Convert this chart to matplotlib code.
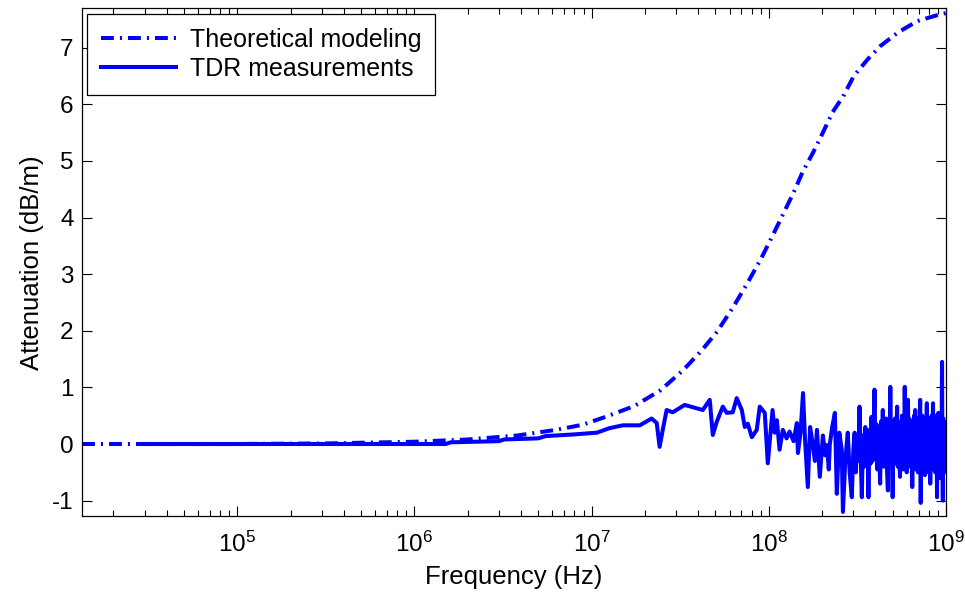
import numpy as np
import matplotlib
matplotlib.use("Agg")
import matplotlib.pyplot as plt

plt.rcParams['font.family'] = ['Liberation Sans', 'DejaVu Sans']
plt.rcParams['mathtext.fontset'] = 'custom'
plt.rcParams['mathtext.rm'] = 'Liberation Sans'
plt.rcParams['mathtext.it'] = 'Liberation Sans'
plt.rcParams['axes.unicode_minus'] = False

# theoretical attenuation (dB/m) vs frequency (Hz)
theo_freq = [1.33e4, 1e5, 3.16e5, 1e6, 2e6, 3.8e6, 6.3e6, 8.9e6, 1.2e7, 1.74e7,
             2.45e7, 3.3e7, 4.2e7, 5.1e7, 6.3e7, 7.6e7, 9.0e7, 1.07e8, 1.2e8,
             1.38e8, 1.55e8, 1.78e8, 2.02e8, 2.29e8, 2.63e8, 3.02e8, 3.63e8,
             4.27e8, 5.37e8, 6.9e8, 9.3e8, 1e9]
theo_att = [0.0, 0.0, 0.01, 0.04, 0.08, 0.15, 0.25, 0.34, 0.48, 0.67,
            0.95, 1.31, 1.66, 1.98, 2.42, 2.85, 3.26, 3.73, 4.05,
            4.44, 4.80, 5.15, 5.50, 5.86, 6.14, 6.50, 6.80,
            7.03, 7.27, 7.47, 7.59, 7.61]

# TDR measurement, lower part (read point by point)
tdr_freq = [3e4, 1.5e6, 1.6e6, 3.0e6, 3.2e6, 5.0e6, 5.5e6, 8.0e6, 1.07e7, 1.26e7,
            1.50e7, 1.87e7, 2.18e7, 2.33e7, 2.42e7, 2.52e7, 2.65e7, 2.87e7, 3.35e7,
            4.24e7, 4.64e7, 4.83e7, 5.08e7, 5.50e7, 5.79e7, 6.26e7, 6.59e7, 7.04e7,
            7.32e7, 7.61e7, 8.02e7, 8.55e7, 8.89e7, 9.49e7, 9.87e7, 1.05e8, 1.08e8,
            1.11e8, 1.15e8, 1.20e8, 1.26e8, 1.31e8, 1.38e8, 1.44e8, 1.46e8, 1.51e8,
            1.56e8, 1.60e8, 1.64e8, 1.66e8, 1.71e8, 1.77e8, 1.82e8, 1.87e8, 1.94e8,
            2.02e8, 2.08e8, 2.13e8, 2.18e8, 2.21e8, 2.28e8, 2.36e8, 2.42e8, 2.50e8,
            2.58e8, 2.62e8, 2.70e8, 2.79e8, 2.86e8, 2.94e8]
tdr_att = [0.0, 0.0, 0.03, 0.05, 0.08, 0.10, 0.14, 0.17, 0.20, 0.28,
           0.33, 0.33, 0.45, 0.37, -0.05, 0.25, 0.60, 0.56, 0.69,
           0.60, 0.78, 0.16, 0.39, 0.66, 0.55, 0.56, 0.81, 0.60,
           0.30, 0.36, 0.12, 0.25, 0.66, 0.55, -0.34, 0.60, 0.20,
           0.42, -0.10, 0.25, 0.10, 0.22, 0.05, 0.37, -0.16, 0.20,
           0.90, 0.10, -0.46, -0.76, 0.30, 0.0, -0.30, 0.25, -0.58,
           0.15, -0.20, -0.02, -0.45, 0.0, 0.30, 0.55, -0.88, 0.20,
           -0.10, -1.20, -0.30, 0.20, -0.50, -0.94]

# TDR measurement, dense band 300 MHz - 1 GHz (5 MHz steps)
band_att = [-0.1, 0.2, -0.5, 0.1, -0.3, 0.66, -0.2, -0.94, 0.15, -0.4,
            0.3, -0.25, 0.25, -0.94, 0.2, -0.35, 0.48, -0.3, 0.1, 0.96,
            -0.2, 0.35, -0.45, 0.3, -0.1, -0.7, 0.4, -0.3, 0.6, -0.4,
            0.35, -0.2, 0.45, -0.5, -0.82, 0.3, -0.3, 1.01, -0.2, 0.4,
            -0.94, 0.3, -0.35, 0.45, -0.25, 0.2, 0.66, -0.4, 0.35, -0.3,
            -0.58, 0.4, -0.2, 0.5, -0.45, 0.3, -0.3, 1.01, -0.1, 0.4,
            -0.5, 0.35, 0.78, -0.3, 0.45, -0.4, 0.3, -0.2, 0.4, -0.76,
            0.2, -0.35, 0.5, -0.3, 0.6, -0.45, 0.35, -0.25, 0.45, -0.5,
            0.3, -0.3, 0.4, 0.78, -1.04, 0.35, -0.3, 0.5, -0.4, 0.3,
            -0.25, 0.45, -0.55, 0.35, -0.3, 0.4, 0.72, -0.4, 0.3, -0.5,
            0.45, -0.3, 0.35, -0.7, 0.4, -0.35, 0.5, -0.3, 0.3, 0.72,
            -0.45, 0.4, -0.3, 0.5, -0.5, 0.35, -0.25, 0.4, -0.94, 0.3,
            -0.4, 0.55, -0.3, 0.4, -0.6, 0.35, -0.3, 0.5, -0.45, 0.3,
            1.45, -0.4, -1.0, 0.45, -0.3, 0.4, -0.5, 0.37, -0.3, 0.3,
            -0.2]
band_freq = np.linspace(3.0e8, 1.0e9, len(band_att))

meas_freq = np.concatenate([tdr_freq, band_freq])
meas_att = np.concatenate([tdr_att, band_att])

fig = plt.figure(figsize=(9.65, 5.96), dpi=100)
ax = fig.add_axes([0.085, 0.1334, 0.8953, 0.8532])

lw = 2.9
ax.plot(theo_freq, theo_att, color='blue', lw=lw, dashes=(3.2, 1.5, 0.5, 1.5),
        label='Theoretical modeling')
ax.plot(meas_freq, meas_att, color='blue', lw=lw, label='TDR measurements')

ax.set_xscale('log')
ax.set_xlim(1.33e4, 1e9)
ax.set_ylim(-1.28, 7.70)
ax.set_yticks(range(-1, 8))

ax.tick_params(which='both', direction='in', top=True, right=True, labelsize=17.5)
ax.tick_params(which='major', length=7, width=0.8)
ax.tick_params(which='minor', length=4, width=0.8)
ax.tick_params(axis='x', which='major', pad=11)
ax.tick_params(axis='y', which='major', pad=6)
for s in ax.spines.values():
    s.set_linewidth(0.9)

ax.set_xlabel('Frequency (Hz)', fontsize=18.5, labelpad=6)
ax.set_ylabel('Attenuation (dB/m)', fontsize=18.5, labelpad=6)

leg = ax.legend(loc='upper left', bbox_to_anchor=(0.0058, 0.988), borderaxespad=0,
                fontsize=18, handlelength=3.0, handletextpad=0.55,
                fancybox=False, framealpha=1, edgecolor='black',
                borderpad=0.55, labelspacing=0.2)
leg.get_frame().set_linewidth(0.9)

fig.savefig('out.png', dpi=100)
